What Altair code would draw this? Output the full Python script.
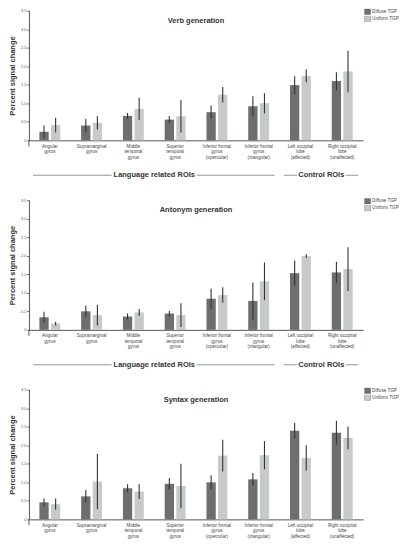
import altair as alt
import pandas as pd

rois = ["Angular|gyrus", "Supramarginal|gyrus", "Middle|temporal|gyrus",
        "Superior|temporal|gyrus", "Inferior frontal|gyrus|(opercular)",
        "Inferior frontal|gyrus|(triangular)", "Left occipital|lobe|(affected)",
        "Right occipital|lobe|(unaffected)"]
groups = ["Diffuse TGP", "Uniform TGP"]
tasks = ["Verb generation", "Antonym generation", "Syntax generation"]

# mean percent signal change and error half-length
verb_diffuse = [0.23, 0.40, 0.66, 0.56, 0.76, 0.92, 1.49, 1.60]
verb_diffuse_err = [0.17, 0.18, 0.08, 0.10, 0.18, 0.27, 0.24, 0.24]
verb_uniform = [0.41, 0.47, 0.85, 0.65, 1.23, 1.00, 1.74, 1.86]
verb_uniform_err = [0.20, 0.18, 0.30, 0.44, 0.21, 0.27, 0.17, 0.56]

antonym_diffuse = [0.34, 0.50, 0.36, 0.44, 0.84, 0.78, 1.53, 1.55]
antonym_diffuse_err = [0.15, 0.15, 0.08, 0.07, 0.27, 0.50, 0.34, 0.29]
antonym_uniform = [0.17, 0.40, 0.47, 0.40, 0.94, 1.31, 1.99, 1.64]
antonym_uniform_err = [0.05, 0.28, 0.09, 0.32, 0.21, 0.51, 0.05, 0.59]

syntax_diffuse = [0.46, 0.62, 0.84, 0.96, 1.00, 1.08, 2.39, 2.34]
syntax_diffuse_err = [0.10, 0.17, 0.11, 0.16, 0.19, 0.17, 0.21, 0.32]
syntax_uniform = [0.41, 1.02, 0.75, 0.90, 1.72, 1.73, 1.66, 2.20]
syntax_uniform_err = [0.15, 0.75, 0.20, 0.60, 0.43, 0.38, 0.34, 0.31]

# ROI groups shown as brackets under the first two panels: (label, first roi, last roi + 1)
roi_groups = [("Language related ROIs", 0, 6), ("Control ROIs", 6, 8)]

series = {
    "Verb generation": (verb_diffuse, verb_diffuse_err, verb_uniform, verb_uniform_err),
    "Antonym generation": (antonym_diffuse, antonym_diffuse_err, antonym_uniform, antonym_uniform_err),
    "Syntax generation": (syntax_diffuse, syntax_diffuse_err, syntax_uniform, syntax_uniform_err),
}

FONT = "Liberation Sans"
W, H = 335, 130
DARK, LIGHT = "#6e6e6e", "#c6caca"


def panel_df(task):
    d, de, u, ue = series[task]
    rows = []
    for i, r in enumerate(rois):
        rows.append(dict(roi=r, group=groups[0], mean=d[i], lo=d[i] - de[i], hi=d[i] + de[i]))
        rows.append(dict(roi=r, group=groups[1], mean=u[i], lo=u[i] - ue[i], hi=u[i] + ue[i]))
    return pd.DataFrame(rows)


def bracket_dfs():
    gap = {"Language related ROIs": 1.02, "Control ROIs": 0.58}
    segs, labels = [], []
    for name, a, b in roi_groups:
        c = (a + b) / 2
        segs.append(dict(x0=a + 0.1, x1=c - gap[name]))
        segs.append(dict(x0=c + gap[name], x1=b - 0.12))
        labels.append(dict(label=name, pos=c))
    return pd.DataFrame(segs), pd.DataFrame(labels)


def make_panel(task, bracket):
    df = panel_df(task)
    xs = alt.Scale(domain=rois, paddingInner=0.5, paddingOuter=0.25)
    ys = alt.Scale(domain=[0, 3.5])
    xo = alt.XOffset("group:N", scale=alt.Scale(domain=groups, paddingInner=0.2))
    x_axis = alt.Axis(labelExpr="split(datum.label, '|')", labelAngle=0,
                      ticks=False, labelFontSize=4.6, labelLineHeight=5.4,
                      labelColor="#444", labelPadding=3, domainColor="#555",
                      labelFont=FONT, labelBaseline="top", title=None)
    y_axis = alt.Axis(values=[0, 0.5, 1, 1.5, 2, 2.5, 3, 3.5], grid=False,
                      labelExpr="datum.value == 0 ? '0' : format(datum.value, '.1f')",
                      labelFontSize=4, labelColor="#555", tickSize=2,
                      tickColor="#555", domainColor="#555", labelPadding=1,
                      titleFontSize=7.5, titleFont=FONT, titleColor="#333",
                      titlePadding=4, labelFont=FONT, labelOverlap=False,
                      title="Percent signal change")

    bars = alt.Chart(df).mark_bar().encode(
        x=alt.X("roi:N", sort=rois, scale=xs, axis=x_axis),
        xOffset=xo,
        y=alt.Y("mean:Q", scale=ys, axis=y_axis),
        color=alt.Color("group:N", scale=alt.Scale(domain=groups, range=[DARK, LIGHT]),
                        legend=alt.Legend(title=None, orient="none", legendX=W + 1,
                                          legendY=-2, symbolType="square", symbolSize=36,
                                          labelFontSize=4.6, labelFont=FONT,
                                          labelColor="#444", rowPadding=1, labelOffset=1,
                                          padding=0, symbolStrokeWidth=0.4, clipHeight=6,
                                          symbolStrokeColor="#555")),
    )

    errs = alt.Chart(df).mark_rule(color="#333", strokeWidth=1.1).encode(
        x=alt.X("roi:N", sort=rois, scale=xs, axis=x_axis),
        xOffset=xo,
        y=alt.Y("lo:Q", scale=ys, axis=y_axis),
        y2="hi:Q",
    )

    one = pd.DataFrame({"t": [task]})
    title = alt.Chart(one).mark_text(fontSize=7.5, fontWeight="bold", font=FONT,
                                     color="#333").encode(
        text="t:N", x=alt.value(W / 2), y=alt.value(10))
    axis_tail = alt.Chart(one).mark_rule(color="#555").encode(
        x=alt.value(0), y=alt.value(H), y2=alt.value(H + 6))

    main = alt.layer(bars, errs, title, axis_tail)
    if not bracket:
        return main.properties(width=W, height=H)

    segs, labels = bracket_dfs()
    bx = alt.Scale(domain=[0, len(rois)])
    lines = alt.Chart(segs).mark_rule(color="#8a8a8a", strokeWidth=0.9).encode(
        x=alt.X("x0:Q", scale=bx, axis=None), x2="x1:Q", y=alt.value(H + 35))
    text = alt.Chart(labels).mark_text(fontSize=7.5, fontWeight="bold", font=FONT,
                                       color="#333").encode(
        x=alt.X("pos:Q", scale=bx, axis=None), text="label:N", y=alt.value(H + 35))
    brk = alt.layer(lines, text)
    return alt.layer(main, brk).resolve_scale(x="independent").properties(width=W, height=H)


chart = alt.vconcat(
    make_panel(tasks[0], True),
    make_panel(tasks[1], True),
    make_panel(tasks[2], False),
    spacing=19,
).resolve_scale(color="independent").properties(padding=0).configure_view(stroke=None)

chart.save("out.html", embed_options={"renderer": "svg", "actions": False})
